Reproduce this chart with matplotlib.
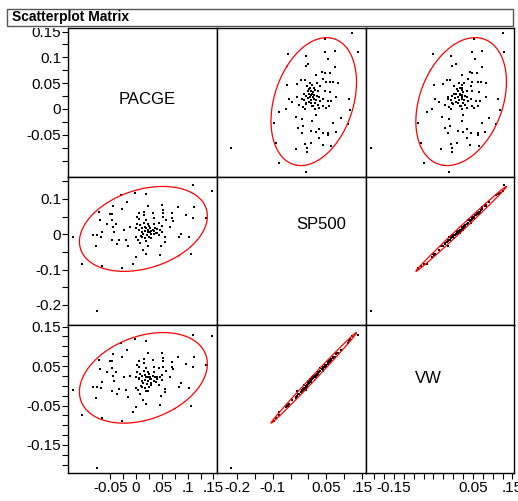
import numpy as np
import matplotlib.pyplot as plt
from matplotlib.patches import Rectangle

plt.rcParams['font.family'] = ['Liberation Sans', 'DejaVu Sans']

names = ['PACGE', 'SP500', 'VW']

pacge = [0.148, 0.135, 0.110, 0.107, 0.110, 0.112, 0.102, 0.097, 0.087, 0.083,
         0.081, 0.072, 0.070, 0.070, 0.065, 0.057, 0.057, 0.059, 0.053, 0.053,
         0.052, 0.051, 0.046, 0.049, 0.050, 0.047, 0.051, 0.045, 0.040, 0.037,
         0.035, 0.032, 0.034, 0.032, 0.027, 0.029, 0.024, 0.019, 0.014, 0.019,
         0.021, 0.023, 0.018, 0.020, 0.016, 0.016, 0.023, 0.019, 0.012, 0.014,
         0.008, 0.003, 0.005, 0.008, 0.006, 0.005, -0.001, -0.006, -0.001, -0.001,
         0.001, 0.001, -0.003, -0.012, -0.015, -0.020, -0.023, -0.018, -0.028, -0.028,
         -0.030, -0.036, -0.033, -0.038, -0.042, -0.044, -0.047, -0.046, -0.046, -0.044,
         -0.051, -0.057, -0.067, -0.068, -0.067, -0.070, -0.075, -0.072, -0.077, -0.075,
         -0.083, -0.105, -0.123,
         0.044, 0.038, 0.035, 0.029, 0.027, 0.025, 0.023, 0.020, 0.023, 0.016,
         0.010, 0.011, 0.012, 0.018, 0.018, 0.029, 0.040, 0.034, 0.025, 0.006]

sp500 = [0.123, 0.046, 0.139, -0.057, 0.046, 0.076, -0.008, 0.055, 0.000, -0.008,
         0.076, 0.038, 0.046, 0.060, 0.021, -0.021, -0.009, 0.040, 0.049, 0.068,
         0.060, 0.083, -0.059, -0.033, 0.005, 0.011, 0.023, 0.032, 0.004, 0.019,
         0.046, 0.061, 0.000, 0.013, 0.007, -0.012, -0.032, -0.055, -0.045, -0.019,
         -0.002, 0.013, 0.021, 0.040, 0.054, 0.063, 0.079, 0.113, -0.008, 0.002,
         -0.026, -0.015, 0.011, 0.026, 0.042, 0.059, -0.064, -0.083, -0.009, 0.019,
         0.030, 0.049, 0.117, 0.021, -0.034, -0.017, 0.011, 0.092, -0.097, 0.070,
         0.110, -0.028, -0.015, 0.030, 0.007, 0.021, 0.040, -0.017, 0.056, 0.079,
         0.056, 0.030, -0.090, -0.009, 0.007, 0.040, -0.003, 0.063, -0.034, -0.218,
         -0.003, -0.083, -0.008,
         -0.003, 0.003, 0.008, 0.010, 0.017, 0.024, 0.005, 0.017, 0.029, 0.032,
         -0.006, 0.006, 0.019, -0.011, 0.008, 0.001, 0.015, 0.028, -0.008, 0.013]

vw = [0.127, 0.053, 0.129, -0.050, 0.048, 0.074, -0.006, 0.055, 0.006, -0.002,
      0.074, 0.042, 0.047, 0.059, 0.021, -0.016, -0.009, 0.037, 0.047, 0.070,
      0.064, 0.082, -0.048, -0.026, 0.015, 0.021, 0.028, 0.045, 0.017, 0.023,
      0.048, 0.065, 0.013, 0.025, 0.017, 0.003, -0.014, -0.046, -0.036, -0.012,
      0.004, 0.021, 0.028, 0.045, 0.058, 0.068, 0.082, 0.113, -0.002, 0.006,
      -0.021, -0.011, 0.017, 0.030, 0.047, 0.062, -0.055, -0.067, -0.006, 0.021,
      0.035, 0.053, 0.118, 0.026, -0.028, -0.011, 0.021, 0.091, -0.088, 0.074,
      0.108, -0.021, -0.009, 0.035, 0.011, 0.026, 0.045, -0.012, 0.062, 0.080,
      0.064, 0.034, -0.082, -0.006, 0.009, 0.043, -0.002, 0.066, -0.031, -0.209,
      -0.002, -0.073, -0.011,
      0.003, 0.009, 0.013, 0.016, 0.023, 0.029, 0.011, 0.023, 0.035, 0.038,
      0.000, 0.012, 0.025, -0.005, 0.014, 0.007, 0.021, 0.034, -0.002, 0.019]

data = [np.array(pacge), np.array(sp500), np.array(vw)]

# axis ranges and ticks for each variable
lims = [(-0.132, 0.157), (-0.257, 0.162), (-0.221, 0.154)]
yticks = [np.arange(-0.1, 0.151, 0.025), np.arange(-0.2, 0.151, 0.05), np.arange(-0.2, 0.151, 0.025)]
ylabels = [{0.15: '0.15', 0.1: '0.1', 0.05: '0.05', 0.0: '0', -0.05: '-0.05'},
           {0.1: '0.1', 0.0: '0', -0.1: '-0.1', -0.2: '-0.2'},
           {0.15: '0.15', 0.05: '0.05', -0.05: '-0.05', -0.15: '-0.15'}]
xticks = [np.arange(-0.05, 0.151, 0.025), np.arange(-0.2, 0.151, 0.05), np.arange(-0.2, 0.151, 0.025)]
xlabels = [{-0.05: '-0.05', 0.0: '0', 0.05: '.05', 0.1: '.1', 0.15: '.15'},
           {-0.2: '-0.2', -0.1: '-0.1', 0.05: '0.05', 0.15: '.15'},
           {-0.15: '-0.15', 0.05: '0.05', 0.15: '.15'}]
label_pos = [(0.534, 0.523), (0.70, 0.676), (0.42, 0.64)]


def labels_for(ticks, lab):
    out = []
    for t in ticks:
        s = ''
        for k, v in lab.items():
            if abs(t - k) < 1e-6:
                s = v
        out.append(s)
    return out


def ellipse(x, y, level=5.991):
    cov = np.cov(x, y)
    vals, vecs = np.linalg.eigh(cov)
    t = np.linspace(0, 2 * np.pi, 300)
    circ = np.vstack([np.cos(t), np.sin(t)])
    pts = vecs @ (np.sqrt(vals * level)[:, None] * circ)
    return x.mean() + pts[0], y.mean() + pts[1]


W, H = 518, 501
fig = plt.figure(figsize=(W / 100, H / 100), dpi=100)

lefts = [68, 217, 366]
widths = [149, 149, 148]
tops = [28, 177, 325]
heights = [149, 148, 148]

for i in range(3):      # row -> y variable
    for j in range(3):  # col -> x variable
        ax = fig.add_axes([lefts[j] / W, (H - tops[i] - heights[i]) / H,
                           widths[j] / W, heights[i] / H])
        ax.set_xlim(lims[j])
        ax.set_ylim(lims[i])
        for s in ax.spines.values():
            s.set_linewidth(1.0)
            s.set_color('black')
        if i == j:
            ax.text(label_pos[i][0], label_pos[i][1], names[i], transform=ax.transAxes,
                    ha='center', va='center', fontsize=12)
        else:
            x, y = data[j], data[i]
            ax.plot(x, y, 's', color='black', ms=2.0, mew=0, antialiased=False)
            ex, ey = ellipse(x, y)
            ax.plot(ex, ey, color='#ff0000', lw=0.9)
        if j == 0:
            ax.set_yticks(yticks[i])
            ax.set_yticklabels(labels_for(yticks[i], ylabels[i]))
            ax.tick_params(axis='y', direction='out', length=4, width=0.8, pad=1, labelsize=11)
        else:
            ax.set_yticks([])
        if i == 2:
            ax.set_xticks(xticks[j])
            ax.set_xticklabels(labels_for(xticks[j], xlabels[j]))
            ax.tick_params(axis='x', direction='out', length=4, width=0.8, pad=2, labelsize=11)
        else:
            ax.set_xticks([])

# cover above the top frame, then the title box
fig.add_artist(Rectangle((0, (H - 28) / H), 68 / W, 28 / H, transform=fig.transFigure,
                         facecolor='white', edgecolor='none', zorder=5))
fig.add_artist(Rectangle((7 / W, (H - 26) / H), 506 / W, 17 / H, transform=fig.transFigure,
                         facecolor='white', edgecolor='#555555', lw=1.0, zorder=6))
fig.text(12 / W, (H - 17.5) / H, 'Scatterplot Matrix', fontsize=10, fontweight='bold',
         ha='left', va='center', zorder=7)

fig.savefig('out.png', dpi=100)
